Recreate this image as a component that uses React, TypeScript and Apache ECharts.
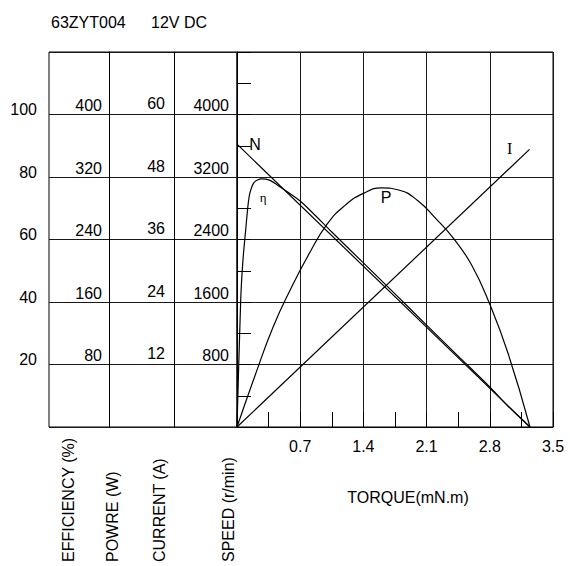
import React, { useEffect, useRef } from 'react';
import * as echarts from 'echarts';

const FONT = '"Liberation Sans", Arial, sans-serif';
const SERIF = '"Liberation Serif", "Times New Roman", serif';

// Axis ranges (top of the chart frame) and label steps
const TORQUE_MAX = 3.5;
const TORQUE_STEP = 0.7;
const EFF_MAX = 120;
const EFF_STEP = 20;
const POWER_MAX = 480;
const POWER_STEP = 80;
const CURRENT_MAX = 72;
const CURRENT_STEP = 12;
const SPEED_MAX = 4800;
const SPEED_STEP = 800;

// Curves: [torque (mN.m), value]
const efficiency: number[][] = [
  [0, 0], [0.041, 40.6], [0.066, 53.4], [0.096, 63], [0.122, 71], [0.144, 75],
  [0.19, 78.3], [0.27, 79.4], [0.36, 79], [0.48, 76.8], [0.7, 72.3],
  [1.05, 62.4], [1.4, 52.5], [1.75, 42.6], [2.1, 32.6], [2.45, 22.7],
  [2.8, 12.8], [3.0, 6.7], [3.245, 0],
];
const power: number[][] = [
  [0, 0], [0.2, 66], [0.4, 128], [0.6, 178], [0.8, 222], [1.0, 260],
  [1.2, 284], [1.4, 299], [1.6, 306], [1.8, 303], [2.0, 290], [2.2, 267],
  [2.4, 241], [2.6, 207], [2.8, 157], [3.0, 95], [3.245, 0],
];
const current: number[][] = [[0, 0], [3.24, 53.3]];
const speed: number[][] = [[0, 3620], [3.245, 0]];

// Curve name labels: [torque, value]
const labelN = [0.2, 3620];
const labelEta = [0.29, 73.3];
const labelP = [1.65, 294];
const labelI = [3.02, 53.4];

const BLACK = '#000';
const GRIDC = '#1a1a1a';

function valueAxis(offset: number, max: number, interval: number, margin: number, lineHeight: number, extra: any = {}) {
  return {
    type: 'value',
    gridIndex: 1,
    position: 'left',
    offset,
    min: 0,
    max,
    interval,
    axisLine: { show: true, lineStyle: { color: BLACK, width: 1 } },
    axisTick: { show: false },
    splitLine: { show: false },
    axisLabel: {
      showMinLabel: false,
      showMaxLabel: false,
      margin,
      color: BLACK,
      fontSize: 16,
      fontFamily: FONT,
      verticalAlign: 'bottom',
      lineHeight,
      formatter: (v: number) => String(v),
    },
    ...extra,
  };
}

function nameMark(coord: number[], text: string, font: string, size: number) {
  return {
    symbol: 'circle',
    symbolSize: 0,
    silent: true,
    data: [
      {
        coord,
        label: {
          show: true,
          position: 'inside',
          formatter: text,
          color: BLACK,
          fontSize: size,
          fontFamily: font,
        },
      },
    ],
  };
}

export default function App() {
  const ref = useRef<HTMLDivElement>(null);
  useEffect(() => {
    document.body.style.margin = '0';
    const chart = echarts.init(ref.current!, null, { renderer: 'svg' });
    const lineStyle = { color: BLACK, width: 1.2 };
    const rot = (x: number, text: string) => ({
      type: 'text', x, y: 562, rotation: Math.PI / 2,
      style: { text, fontSize: 16, fontFamily: FONT, fill: BLACK, align: 'left', verticalAlign: 'middle' },
    });
    const option: any = {
      animation: false,
      backgroundColor: '#fff',
      title: [
        { text: '63ZYT004', left: 46, top: 9, textStyle: { fontSize: 16, fontWeight: 'normal', color: BLACK, fontFamily: FONT } },
        { text: '12V DC', left: 146, top: 9, textStyle: { fontSize: 16, fontWeight: 'normal', color: BLACK, fontFamily: FONT } },
      ],
      grid: [
        { left: 49, top: 52, width: 188, height: 375, show: true, borderColor: BLACK, borderWidth: 1, backgroundColor: 'transparent' },
        { left: 237, top: 52, width: 316, height: 375, show: true, borderColor: BLACK, borderWidth: 1, backgroundColor: 'transparent' },
      ],
      xAxis: [
        { type: 'value', gridIndex: 0, min: 0, max: 1, show: false },
        {
          type: 'value',
          gridIndex: 1,
          min: 0,
          max: TORQUE_MAX,
          interval: TORQUE_STEP,
          axisLine: { show: true, lineStyle: { color: BLACK } },
          axisTick: { show: true, inside: true, length: 15, lineStyle: { color: BLACK } },
          minorTick: { show: true, splitNumber: 2, length: 15, lineStyle: { color: BLACK } },
          splitLine: { show: true, lineStyle: { color: GRIDC, width: 1 } },
          axisLabel: {
            showMinLabel: false,
            margin: 11,
            color: BLACK,
            fontSize: 16,
            fontFamily: FONT,
            formatter: (v: number) => (v === 0 ? '' : v.toFixed(1)),
          },
        },
      ],
      yAxis: [
        {
          type: 'value', gridIndex: 0, min: 0, max: EFF_MAX, interval: EFF_STEP,
          axisLine: { show: false }, axisTick: { show: false }, axisLabel: { show: false },
          splitLine: { show: true, lineStyle: { color: GRIDC, width: 1 } },
        },
        valueAxis(188, EFF_MAX, EFF_STEP, 12, 10),
        valueAxis(128, POWER_MAX, POWER_STEP, 7, 18),
        valueAxis(63, CURRENT_MAX, CURRENT_STEP, 9, 22),
        valueAxis(0, SPEED_MAX, SPEED_STEP, 8, 18, {
          axisTick: { show: true, inside: true, length: 14, lineStyle: { color: BLACK } },
          minorTick: { show: true, splitNumber: 2, length: 14, lineStyle: { color: BLACK } },
          splitLine: { show: true, lineStyle: { color: GRIDC, width: 1 } },
        }),
      ],
      series: [
        {
          type: 'line', xAxisIndex: 1, yAxisIndex: 1, data: efficiency, smooth: 0.25,
          symbol: 'none', lineStyle, markPoint: nameMark(labelEta, 'η', SERIF, 13),
        },
        {
          type: 'line', xAxisIndex: 1, yAxisIndex: 2, data: power, smooth: 0.5,
          symbol: 'none', lineStyle, markPoint: nameMark(labelP, 'P', FONT, 16),
        },
        {
          type: 'line', xAxisIndex: 1, yAxisIndex: 3, data: current,
          symbol: 'none', lineStyle, markPoint: nameMark(labelI, 'I', SERIF, 16),
        },
        {
          type: 'line', xAxisIndex: 1, yAxisIndex: 4, data: speed,
          symbol: 'none', lineStyle, markPoint: nameMark(labelN, 'N', FONT, 16),
        },
      ],
      graphic: [
        rot(68, 'EFFICIENCY (%)'),
        rot(112.5, 'POWRE (W)'),
        rot(159, 'CURRENT (A)'),
        rot(228, 'SPEED (r/min)'),
        { type: 'text', x: 408, y: 497.5, style: { text: 'TORQUE(mN.m)', fontSize: 16, fontFamily: FONT, fill: BLACK, align: 'center', verticalAlign: 'middle' } },
      ],
    };
    chart.setOption(option);
    return () => chart.dispose();
  }, []);
  return <div ref={ref} style={{ width: 570, height: 566 }} />;
}
